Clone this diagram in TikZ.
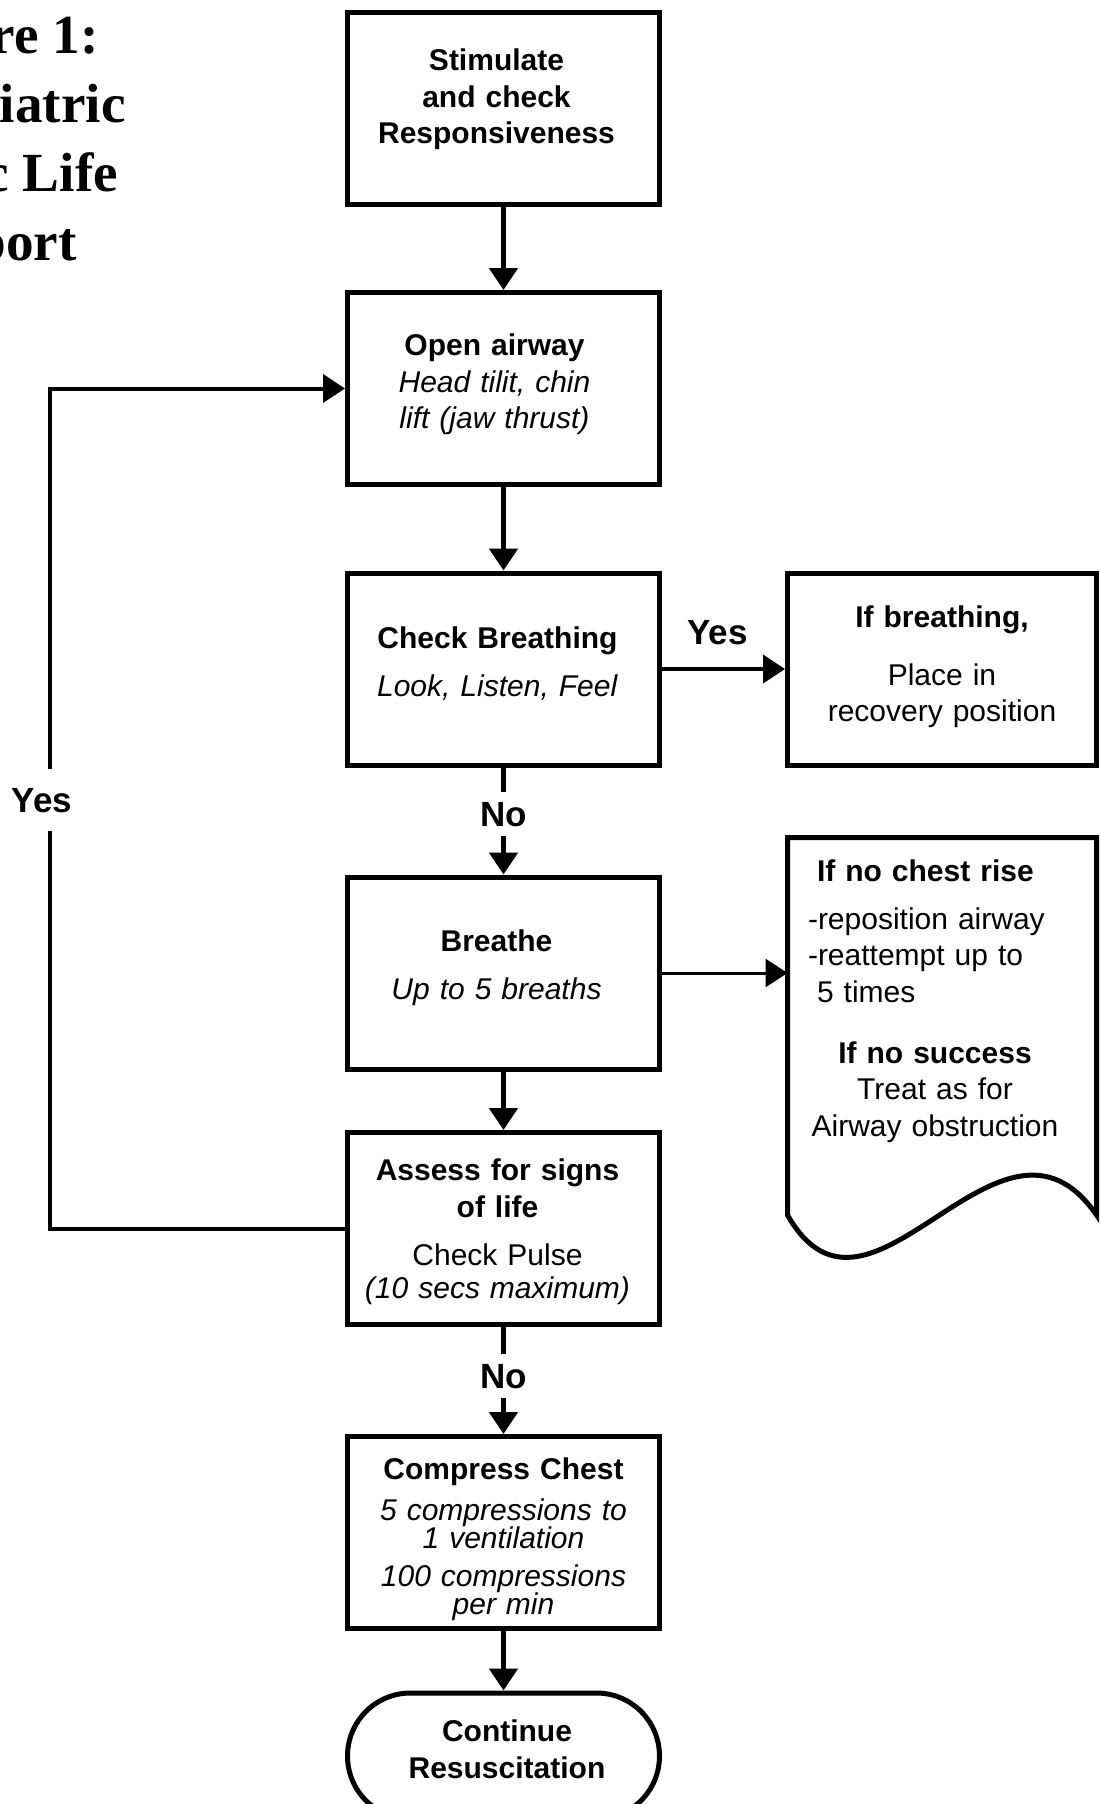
\documentclass[tikz,border=0pt]{standalone}
\usepackage{fontspec}
\setmainfont{Liberation Sans}
\newfontfamily\titlefont{Liberation Serif}
\usepackage{tikz}
\usetikzlibrary{arrows.meta}
\usetikzlibrary{positioning}
\newcommand{\padbot}[1]{\rule[-#1]{0pt}{#1}}
\newcommand{\padtop}[1]{\rule{0pt}{#1}}

\begin{document}
\begin{tikzpicture}[x=0.5pt, y=-0.5pt,
    box/.style={draw, line width=2.5pt, minimum width=156pt, minimum height=96pt,
      text width=150pt, inner xsep=3pt, inner ysep=0pt,
      font=\fontsize{15}{18.25}\selectfont,
      execute at begin node=\centering\advance\rightskip by #1\relax},
    box/.default=0pt,
    sidebox/.style={box, minimum width=154.5pt, text width=148.5pt},
    endbox/.style={box=#1, rounded corners=31.5pt, minimum height=63pt},
    flow/.style={line width=2.5pt, -{Triangle[width=14pt, length=11pt]}},
    sideflow/.style={flow, line width=2pt},
    thinflow/.style={flow, line width=1.5pt},
    lbl/.style={font=\fontsize{17.5}{21}\selectfont\bfseries, inner sep=0pt},
    gaplbl/.style={lbl, fill=white, text height=12.5pt, text depth=0pt,
      inner xsep=1pt, inner ysep=4.75pt}]
    \useasboundingbox (0,0) rectangle (1101,1804);

    \node[anchor=north west, align=left, inner sep=0pt,
      font=\titlefont\bfseries\fontsize{27.6}{34.5}\selectfont] (title) at (-117,15)
      {Figure 1:\\Paediatric\\Basic Life\\Support};

    \node[box=7pt] (stim) at (503.5,108.5)
      {\textbf{Stimulate}\\\textbf{and check}\\\textbf{Responsiveness}\padbot{12pt}};
    \node[box=9pt] (airway) at (503.5,388.5)
      {\textbf{Open airway}\\\textit{Head tilit, chin}\\\textit{lift (jaw thrust)}\padbot{7.2pt}};
    \node[box=6pt] (check) at (503.5,669)
      {\textbf{Check Breathing}\\[6pt]\textit{Look, Listen, Feel}\padbot{7.2pt}};
    \node[sidebox] (ifbreath) at (942,669)
      {\textbf{If breathing,}\\[10.5pt]Place in\\recovery position\padbot{5.2pt}};
    \node[box=7pt] (breathe) at (503.5,973)
      {\textbf{Breathe}\\[5.5pt]\textit{Up to 5 breaths}\padbot{8.2pt}};
    \node[box=6pt] (assess) at (503.5,1228.5)
      {\padtop{14pt}\textbf{Assess for signs}\\\textbf{of life}\\[6pt]Check Pulse\\[-2pt]\textit{(10 secs maximum)}};
    \node[box] (compress) at (503.5,1532.5)
      {\padtop{18pt}\textbf{Compress Chest}\\[2pt]\textit{5 compressions to}\\[-4pt]\textit{1 ventilation}\\[0.5pt]\textit{100 compressions}\\[-4pt]\textit{per min}};
    \node[endbox=-3.5pt] (cont) at (503.5,1756)
      {\textbf{Continue}\\\textbf{Resuscitation}\padbot{7pt}};

    \coordinate (docnw) at (787.5,837.5);
    \coordinate (docne) at (1096.5,837.5);
    \coordinate (docsw) at (787.5,1215);
    \coordinate (docse) at (1096.5,1215);
    \draw[line width=2.5pt] (docse) .. controls +(-96.5,-140) and +(82.5,145) .. (docsw)
      -- (docnw) -- (docne) -- cycle;
    \node[anchor=north, text width=127pt, inner sep=0pt,
      font=\fontsize{15}{18.25}\selectfont] (norise) at (935,859)
      {\setlength{\parindent}{0pt}\raggedright
      \hspace*{4.5pt}\textbf{If no chest rise}\\[5.75pt]
      -reposition airway\\
      -reattempt up to\\
      \hspace*{4.5pt}5 times\par
      \vspace{12.25pt}\centering
      \textbf{If no success}\\
      Treat as for\\
      Airway obstruction\par};

    \draw[flow] (stim) -- (airway);
    \draw[flow] (airway) -- (check);
    \draw[flow] (check) -- node[gaplbl, pos=0.43] (no1) {No} (breathe);
    \draw[flow] (breathe) -- (assess);
    \draw[flow] (assess) -- node[gaplbl, pos=0.46] (no2) {No} (compress);
    \draw[flow] (compress) -- (cont);
    \draw[sideflow] (check) -- node[lbl, pos=0.45, above=11pt] (yes1) {Yes} (ifbreath);
    \draw[thinflow] (breathe) -- (breathe -| docnw);

    \coordinate (loopx) at (50,0);
    \draw[sideflow] (assess.west) -- (assess.west -| loopx)
      -- node[gaplbl, pos=0.51, inner ysep=9.25pt, xshift=-4pt] (yes2) {Yes} (airway.west -| loopx)
      -- (airway.west);
\end{tikzpicture}
\end{document}
